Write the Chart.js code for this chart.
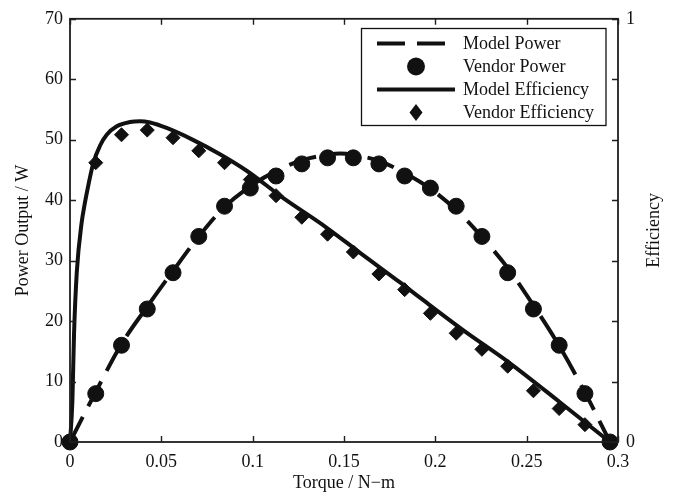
<!DOCTYPE html>
<html><head><meta charset="utf-8">
<script src="https://cdn.jsdelivr.net/npm/chart.js@4/dist/chart.umd.min.js"></script>
<style>html,body{margin:0;padding:0;background:#fff;}#wrap{width:675px;height:492px;}</style>
</head><body><div id="wrap"><canvas id="c" width="675" height="492"></canvas></div>
<script>
// ---- data ----
const torque = [0, 0.0141, 0.0282, 0.0423, 0.0564, 0.0705, 0.0846, 0.0987, 0.1128, 0.1269, 0.141,
  0.1551, 0.1691, 0.1832, 0.1973, 0.2114, 0.2255, 0.2396, 0.2537, 0.2678, 0.2819, 0.2956];
const vendorPower = [0, 8, 16, 22, 28, 34, 39, 42, 44, 46, 47, 47, 46, 44, 42, 39, 34, 28, 22, 16, 8, 0];
const vendorEfficiency = [0, 0.660, 0.726, 0.737, 0.719, 0.688, 0.660, 0.620, 0.582, 0.531, 0.491,
  0.449, 0.397, 0.360, 0.304, 0.257, 0.219, 0.179, 0.121, 0.079, 0.041, 0];
const modelPowerTorque = [0, 0.0141, 0.0282, 0.0423, 0.0564, 0.0705, 0.0846, 0.0987, 0.1128, 0.1269, 0.141, 0.148,
  0.1551, 0.1691, 0.1832, 0.1973, 0.2114, 0.2255, 0.2396, 0.2537, 0.2678, 0.2819, 0.2956];
const modelPower = [0, 8.3, 16.2, 22.4, 28.3, 34.0, 38.9, 42.3, 44.8, 46.6, 47.5, 47.7,
  47.5, 46.5, 44.5, 41.9, 38.4, 33.9, 28.8, 22.6, 15.9, 8.2, 0];
const modelEffTorque = [0, 0.0013, 0.0022, 0.0037, 0.0064, 0.0082, 0.0100, 0.0128, 0.0164, 0.0201, 0.0256,
  0.0328, 0.0383, 0.0438, 0.0529, 0.0673, 0.0821, 0.0967, 0.1166, 0.1400, 0.1588, 0.1807, 0.1916,
  0.2150, 0.2409, 0.2682, 0.2956];
const modelEfficiency = [0, 0.097, 0.254, 0.400, 0.519, 0.566, 0.606, 0.660, 0.700, 0.726, 0.746,
  0.756, 0.758, 0.755, 0.742, 0.714, 0.680, 0.641, 0.577, 0.508, 0.447, 0.377, 0.341,
  0.265, 0.186, 0.094, 0];
const xTickLabels = ['0', '0.05', '0.1', '0.15', '0.2', '0.25', '0.3'];
const yTickLabels = ['0', '10', '20', '30', '40', '50', '60', '70'];
const y2TickValues = [0, 1/7, 2/7, 3/7, 4/7, 5/7, 6/7, 1];
const y2TickLabels = ['0', '', '', '', '', '', '', '1'];
const seriesNames = ['Model Power', 'Vendor Power', 'Model Efficiency', 'Vendor Efficiency'];
const xTitle = 'Torque / N\u2212m';
const yTitle = 'Power Output / W';
const y2Title = 'Efficiency';

// ---- styling ----
const INK = '#111';
const AXIS = '#1e1e1e';
const FONT = "'Liberation Serif', 'Times New Roman', serif";
const FS = 18;

const pts = (xs, ys) => xs.map((x, i) => ({x: x, y: ys[i]}));

const framePlugin = {
  id: 'frame',
  afterDatasetsDraw(chart) {
    const ctx = chart.ctx, a = chart.chartArea;
    const sx = chart.scales.x, sy = chart.scales.y, sy2 = chart.scales.y2;
    const TL = 6;
    ctx.save();
    ctx.strokeStyle = AXIS;
    ctx.lineWidth = 1.4;
    ctx.beginPath();
    sx.ticks.forEach(t => {
      const p = Math.round(sx.getPixelForValue(t.value)) + 0.5;
      ctx.moveTo(p, a.bottom); ctx.lineTo(p, a.bottom - TL);
      ctx.moveTo(p, a.top); ctx.lineTo(p, a.top + TL);
    });
    sy.ticks.forEach(t => {
      const p = Math.round(sy.getPixelForValue(t.value)) + 0.5;
      ctx.moveTo(a.left, p); ctx.lineTo(a.left + TL, p);
    });
    sy2.ticks.forEach(t => {
      const p = Math.round(sy2.getPixelForValue(t.value)) + 0.5;
      ctx.moveTo(a.right, p); ctx.lineTo(a.right - TL, p);
    });
    ctx.stroke();
    ctx.lineWidth = 1.8;
    ctx.strokeRect(a.left, a.top, a.right - a.left, a.bottom - a.top);

    // legend box
    const bx = 361.5, by = 28.5, bw = 244.5, bh = 97;
    ctx.fillStyle = '#fff';
    ctx.fillRect(bx, by, bw, bh);
    ctx.lineWidth = 1.3;
    ctx.strokeStyle = INK;
    ctx.strokeRect(bx, by, bw, bh);
    const rowY = [43.5, 66.5, 89.5, 112.5];
    const sx0 = 377, sx1 = 455, sxm = (sx0 + sx1) / 2;
    chart.data.datasets.forEach((ds, i) => {
      const yy = rowY[i];
      ctx.fillStyle = INK; ctx.strokeStyle = INK;
      if (ds.showLine) {
        ctx.save();
        ctx.lineWidth = ds.borderWidth;
        ctx.setLineDash(ds.borderDash || []);
        ctx.beginPath(); ctx.moveTo(sx0, yy); ctx.lineTo(sx1, yy); ctx.stroke();
        ctx.restore();
      } else if (ds.pointStyle === 'circle') {
        ctx.beginPath(); ctx.arc(sxm, yy, ds.pointRadius + 1, 0, Math.PI * 2); ctx.fill();
      } else {
        const r = ds.pointRadius;
        ctx.beginPath();
        ctx.moveTo(sxm, yy - r - 1.5); ctx.lineTo(sxm + r - 0.5, yy);
        ctx.lineTo(sxm, yy + r + 1.5); ctx.lineTo(sxm - r + 0.5, yy);
        ctx.closePath(); ctx.fill();
      }
      ctx.font = FS + 'px ' + FONT;
      ctx.textAlign = 'left'; ctx.textBaseline = 'middle';
      ctx.fillText(ds.label, 463, yy + 1);
    });

    // right axis title (reads bottom-to-top, like the left one)
    ctx.save();
    ctx.translate(654, (a.top + a.bottom) / 2);
    ctx.rotate(-Math.PI / 2);
    ctx.font = FS + 'px ' + FONT;
    ctx.fillStyle = INK;
    ctx.textAlign = 'center'; ctx.textBaseline = 'middle';
    ctx.fillText(chart.options.scales.y2.title.text, 0, 0);
    ctx.restore();
    ctx.restore();
  }
};

new Chart(document.getElementById('c'), {
  type: 'scatter',
  data: {
    datasets: [
      {label: seriesNames[0], data: pts(modelPowerTorque, modelPower), yAxisID: 'y',
        showLine: true, borderColor: INK, borderWidth: 4, borderDash: [28, 12],
        pointRadius: 0, cubicInterpolationMode: 'monotone', clip: false, order: 3},
      {label: seriesNames[1], data: pts(torque, vendorPower), yAxisID: 'y',
        showLine: false, pointStyle: 'circle', pointRadius: 8, backgroundColor: INK,
        borderColor: INK, borderWidth: 1, clip: false, order: 1},
      {label: seriesNames[2], data: pts(modelEffTorque, modelEfficiency), yAxisID: 'y2',
        showLine: true, borderColor: INK, borderWidth: 4, pointRadius: 0,
        cubicInterpolationMode: 'monotone', clip: false, order: 4},
      {label: seriesNames[3], data: pts(torque, vendorEfficiency), yAxisID: 'y2',
        showLine: false, pointStyle: 'rectRot', pointRadius: 7, backgroundColor: INK,
        borderColor: INK, borderWidth: 1, clip: false, order: 2}
    ]
  },
  options: {
    responsive: false,
    animation: false,
    devicePixelRatio: 1,
    layout: {padding: {top: 15, left: 0, right: 0, bottom: 0}},
    plugins: {legend: {display: false}, tooltip: {enabled: false}},
    elements: {point: {hoverRadius: 0}},
    scales: {
      x: {
        type: 'linear', position: 'bottom', min: 0, max: 0.3,
        afterBuildTicks: s => { s.ticks = xTickLabels.map(l => ({value: parseFloat(l)})); },
        ticks: {callback: (v, i) => xTickLabels[i], color: INK, padding: 9,
          font: {family: FONT, size: FS}, maxRotation: 0, autoSkip: false},
        grid: {display: false, drawTicks: false},
        border: {display: false},
        title: {display: true, text: xTitle, color: INK, font: {family: FONT, size: FS, lineHeight: 1.0},
          padding: {top: 0, bottom: 0}},
        afterFit: s => { s.height = 50; }
      },
      y: {
        type: 'linear', position: 'left', min: 0, max: 70,
        afterBuildTicks: s => { s.ticks = yTickLabels.map(l => ({value: parseFloat(l)})); },
        ticks: {callback: (v, i) => yTickLabels[i], color: INK, padding: 7,
          font: {family: FONT, size: FS}, autoSkip: false},
        grid: {display: false, drawTicks: false},
        border: {display: false},
        title: {display: true, text: yTitle, color: INK, font: {family: FONT, size: FS, lineHeight: 1.2},
          padding: {top: 12, bottom: 0}},
        afterFit: s => { s.width = 70; }
      },
      y2: {
        type: 'linear', position: 'right', min: 0, max: 1,
        afterBuildTicks: s => { s.ticks = y2TickValues.map(v => ({value: v})); },
        ticks: {callback: (v, i) => y2TickLabels[i], color: INK, padding: 8,
          font: {family: FONT, size: FS}, autoSkip: false},
        grid: {display: false, drawTicks: false},
        border: {display: false},
        title: {display: false, text: y2Title},
        afterFit: s => { s.width = 57; }
      }
    }
  },
  plugins: [framePlugin]
});
</script>
</body></html>
